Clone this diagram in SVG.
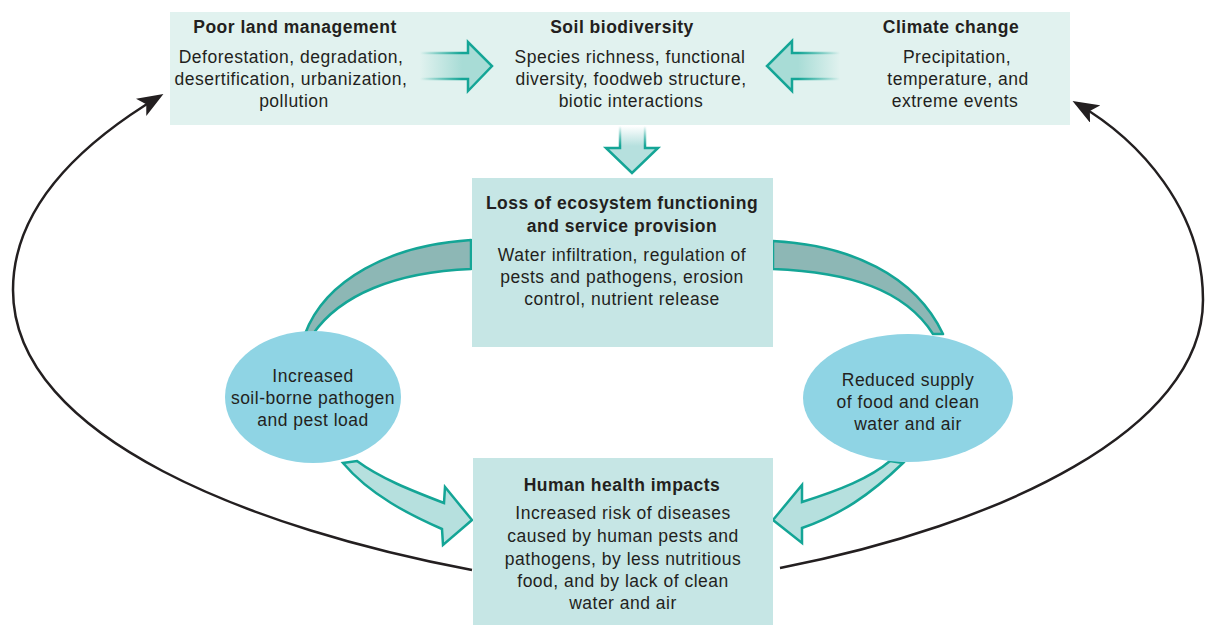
<svg xmlns="http://www.w3.org/2000/svg" width="1205" height="628" viewBox="0 0 1205 628">
<style>
text{font-family:"Liberation Sans",Arial,sans-serif;font-size:17.5px;fill:#231f20;text-anchor:middle;letter-spacing:0.5px}
.h{font-weight:bold}
.band{fill:#8db7b5;stroke:#14a596;stroke-width:2.5;stroke-linejoin:round}
.barrow{fill:#b6e0de;stroke:#14a596;stroke-width:2.5;stroke-linejoin:miter}
.loop{fill:none;stroke:#231f20;stroke-width:2.5}
.ell{fill:#8fd4e4}
</style>
<defs>
<linearGradient id="gL" gradientUnits="userSpaceOnUse" x1="420" y1="0" x2="462" y2="0">
<stop offset="0" stop-color="#a8dcd6" stop-opacity="0"/><stop offset="1" stop-color="#a8dcd6"/></linearGradient>
<linearGradient id="gLs" gradientUnits="userSpaceOnUse" x1="420" y1="0" x2="462" y2="0">
<stop offset="0" stop-color="#14a596" stop-opacity="0"/><stop offset="1" stop-color="#14a596"/></linearGradient>
<linearGradient id="gR" gradientUnits="userSpaceOnUse" x1="840" y1="0" x2="798" y2="0">
<stop offset="0" stop-color="#a8dcd6" stop-opacity="0"/><stop offset="1" stop-color="#a8dcd6"/></linearGradient>
<linearGradient id="gRs" gradientUnits="userSpaceOnUse" x1="840" y1="0" x2="798" y2="0">
<stop offset="0" stop-color="#14a596" stop-opacity="0"/><stop offset="1" stop-color="#14a596"/></linearGradient>
<linearGradient id="gD" gradientUnits="userSpaceOnUse" x1="0" y1="126" x2="0" y2="146">
<stop offset="0" stop-color="#b6e0de" stop-opacity="0"/><stop offset="1" stop-color="#b6e0de"/></linearGradient>
<linearGradient id="gDs" gradientUnits="userSpaceOnUse" x1="0" y1="126" x2="0" y2="146">
<stop offset="0" stop-color="#14a596" stop-opacity="0"/><stop offset="1" stop-color="#14a596"/></linearGradient>
<marker id="ah" viewBox="0 0 26 20" refX="22" refY="10" markerWidth="26" markerHeight="20" markerUnits="userSpaceOnUse" orient="auto">
<path d="M0,0 L26,10 L0,20 L6,10 Z" fill="#231f20"/></marker>
</defs>

<g id="connectors">
<path class="loop" d="M472,570 C260,530 13,440 13,290 C13,200 95,135 160,96" marker-end="url(#ah)"/>
<path class="loop" d="M780,568 C1000,525 1203,430 1203,300 C1203,210 1140,140 1076,103" marker-end="url(#ah)"/>
<path class="band" d="M305,334 C325,280 390,245 471,240 L471,269 C395,272 340,295 313,334 Z"/>
<path class="band" d="M773,241 C850,245 915,275 943,334 L933,334 C905,290 850,272 773,269 Z"/>
<path class="barrow" d="M343,463 C370,495 410,515 442,529 L443,545 L472,520 L445,487 L444,503 C410,490 380,478 357,461 Z"/>
<path class="barrow" d="M903,463 C870,495 840,515 802,528 L802,543 L773,520 L802,485 L802,502 C840,490 870,478 890,461 Z"/>
</g>

<g id="top-box">
<rect x="170" y="12" width="900" height="113" fill="#e1f2ef"/>
</g>

<g id="connectors-top">
<path d="M420,53 L468,53 L468,42 L492,66 L468,91 L468,79 L420,79" fill="url(#gL)" stroke="url(#gLs)" stroke-width="2.5"/>
<path d="M840,53 L792,53 L792,41 L767,66 L792,91 L792,79 L840,79" fill="url(#gR)" stroke="url(#gRs)" stroke-width="2.5"/>
<path d="M620,126 L620,148 L606,148 L632,173 L658,148 L645,148 L645,126" fill="url(#gD)" stroke="url(#gDs)" stroke-width="2.5"/>
</g>

<g id="poor-land">
<text class="h" x="295" y="33">Poor land management</text>
<text x="291" y="63">Deforestation, degradation,</text>
<text x="291" y="85">desertification, urbanization,</text>
<text x="294" y="107">pollution</text>
</g>

<g id="soil-biodiversity">
<text class="h" x="622" y="33">Soil biodiversity</text>
<text x="630" y="63">Species richness, functional</text>
<text x="631" y="85">diversity, foodweb structure,</text>
<text x="631" y="107">biotic interactions</text>
</g>

<g id="climate-change">
<text class="h" x="951" y="33">Climate change</text>
<text x="957" y="63">Precipitation,</text>
<text x="958" y="85">temperature, and</text>
<text x="955" y="107">extreme events</text>
</g>

<g id="loss-ecosystem">
<rect x="472" y="178" width="301" height="169" fill="#c6e6e5"/>
<text class="h" x="622" y="209">Loss of ecosystem functioning</text>
<text class="h" x="622" y="232">and service provision</text>
<text x="622" y="261">Water infiltration, regulation of</text>
<text x="622" y="283">pests and pathogens, erosion</text>
<text x="622" y="305">control, nutrient release</text>
</g>

<g id="pathogen-load">
<ellipse class="ell" cx="313" cy="397" rx="88" ry="66"/>
<text x="313" y="382">Increased</text>
<text x="313" y="404">soil-borne pathogen</text>
<text x="313" y="426">and pest load</text>
</g>

<g id="reduced-supply">
<ellipse class="ell" cx="908" cy="398" rx="105" ry="64"/>
<text x="908" y="386">Reduced supply</text>
<text x="908" y="408">of food and clean</text>
<text x="908" y="430">water and air</text>
</g>

<g id="human-health">
<rect x="473" y="458" width="300" height="167" fill="#c6e6e5"/>
<text class="h" x="622" y="491">Human health impacts</text>
<text x="623" y="519">Increased risk of diseases</text>
<text x="623" y="542">caused by human pests and</text>
<text x="623" y="565">pathogens, by less nutritious</text>
<text x="623" y="587">food, and by lack of clean</text>
<text x="623" y="609">water and air</text>
</g>
</svg>
